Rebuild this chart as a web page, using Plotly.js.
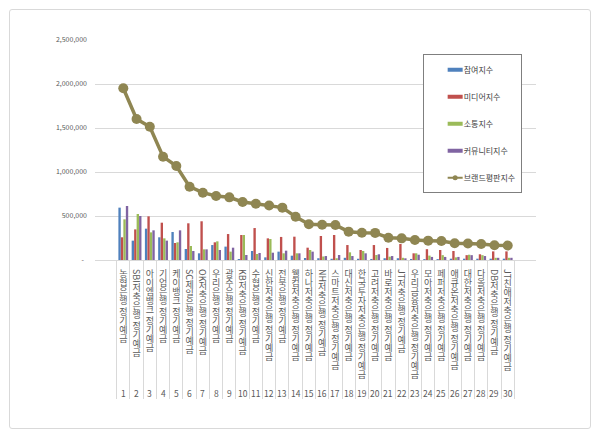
<!DOCTYPE html>
<html><head><meta charset="utf-8">
<script src="https://cdn.plot.ly/plotly-3.0.1.min.js"></script>
<style>
html,body{margin:0;padding:0;background:#fff;}
#wrap{position:relative;width:600px;height:437px;}
#frame{position:absolute;left:9px;top:9px;width:582px;height:420px;border:1px solid #d9d9d9;border-radius:3px;box-sizing:border-box;pointer-events:none;}
#chart{position:absolute;left:0;top:0;width:600px;height:437px;}
</style></head><body>
<div id="wrap"><div id="frame"></div><div id="chart"></div></div>
<script>
const categories = [
  "농협은행 정기예금","SBI저축은행 정기예금","아이엠뱅크 정기예금","기업은행 정기예금","케이뱅크 정기예금",
  "SC제일은행 정기예금","OK저축은행 정기예금","우리은행 정기예금","광주은행 정기예금","KB저축은행 정기예금",
  "수협은행 정기예금","신한저축은행 정기예금","전북은행 정기예금","웰컴저축은행 정기예금","하나저축은행 정기예금",
  "NH저축은행 정기예금","스마트저축은행 정기예금","대신저축은행 정기예금","한국투자저축은행 정기예금","고려저축은행 정기예금",
  "바로저축은행 정기예금","JT저축은행 정기예금","우리금융저축은행 정기예금","모아저축은행 정기예금","페퍼저축은행 정기예금",
  "애큐온저축은행 정기예금","대한저축은행 정기예금","다올저축은행 정기예금","DB저축은행 정기예금","JT친애저축은행 정기예금"
];
const ranks = ["1","2","3","4","5","6","7","8","9","10","11","12","13","14","15","16","17","18","19","20","21","22","23","24","25","26","27","28","29","30"];
const seriesNames = ["참여지수","미디어지수","소통지수","커뮤니티지수","브랜드평판지수"];
const participation = [595000,220000,356000,258000,318000,125000,76000,170000,152000,11000,102000,30000,95000,49000,23000,20000,14000,25000,14000,12000,20000,20000,12000,10000,10000,15000,15000,15000,15000,15000];
const media = [258000,348000,496000,424000,193000,417000,440000,201000,295000,284000,363000,246000,262000,265000,140000,273000,284000,170000,114000,170000,137000,182000,76000,123000,114000,102000,55000,65000,98000,98000];
const communication = [462000,523000,314000,246000,201000,159000,121000,212000,95000,284000,68000,239000,76000,76000,114000,40000,20000,87000,102000,57000,38000,25000,76000,50000,55000,30000,60000,55000,25000,25000];
const community = [614000,500000,337000,220000,337000,102000,121000,114000,140000,57000,80000,83000,106000,76000,95000,45000,57000,45000,76000,65000,45000,19000,60000,35000,35000,35000,55000,45000,25000,25000];
const brand = [1951000,1602000,1515000,1174000,1068000,833000,765000,727000,712000,660000,640000,620000,595000,492000,407000,401000,398000,322000,310000,308000,253000,246000,227000,220000,216000,190000,188000,182000,167000,165000];
const yTickVals = [0,500000,1000000,1500000,2000000,2500000];
const yTickText = ["-\u00a0\u00a0","500,000","1,000,000","1,500,000","2,000,000","2,500,000"];

const colors = ["#4F81BD","#C0504D","#9BBB59","#8064A2","#8F8652"];
const font = "'Noto Sans CJK KR','Noto Sans',sans-serif";
const barSeries = [participation, media, communication, community];

const data = barSeries.map((vals, i) => ({
  type: "bar", x: categories, y: vals, name: seriesNames[i],
  marker: {color: colors[i]}, legendgroup: "g" + i
}));
data.push({
  type: "scatter", mode: "lines+markers", x: categories, y: brand, name: seriesNames[4],
  line: {color: colors[4], width: 3.5}, marker: {color: colors[4], size: 10},
  legendgroup: "g4"
});

const annotations = ranks.map((r, i) => ({
  x: categories[i], xref: "x", y: -0.605, yref: "paper", text: r, showarrow: false,
  font: {family: font, size: 8.5, color: "#595959"}, yanchor: "middle"
}));

const layout = {
  width: 600, height: 437,
  margin: {l: 95, r: 64, t: 40, b: 177},
  paper_bgcolor: "rgba(0,0,0,0)", plot_bgcolor: "rgba(0,0,0,0)",
  barmode: "group", bargap: 0.25, bargroupgap: 0.05,
  font: {family: font, color: "#595959"},
  showlegend: true,
  legend: {x: 0.743, y: 0.935, xanchor: "left", yanchor: "top",
    bgcolor: "#ffffff", bordercolor: "#7f7f7f", borderwidth: 1,
    font: {family: font, size: 8, color: "#404040"}, tracegroupgap: 8, traceorder: "grouped"},
  xaxis: {type: "category", tickmode: "linear", dtick: 1, tickson: "boundaries",
    ticks: "outside", ticklen: 138, tickcolor: "#d9d9d9", tickwidth: 1,
    showline: true, linecolor: "#d9d9d9", showgrid: false, tickangle: 0, automargin: false,
    tickfont: {family: font, size: 9, color: "#595959"}, fixedrange: true},
  yaxis: {range: [0, 2500000], tickmode: "array", tickvals: yTickVals, ticktext: yTickText,
    showgrid: true, gridcolor: "#d9d9d9", gridwidth: 1, zeroline: false, showline: false,
    ticks: "", ticklabelstandoff: 7, automargin: false,
    tickfont: {family: font, size: 7, color: "#595959"}, fixedrange: true},
  annotations: annotations
};

Plotly.newPlot("chart", data, layout, {displayModeBar: false, staticPlot: true}).then(gd => {
  const fl = gd._fullLayout;
  const xa = fl.xaxis, ya = fl.yaxis;
  const yTop = ya._offset + ya._length + 9;
  gd.querySelectorAll(".xtick text").forEach(t => {
    const idx = categories.indexOf(t.textContent);
    if (idx < 0) return;
    const X = xa._offset + xa.l2p(idx);
    t.setAttribute("x", 0);
    t.setAttribute("y", 0);
    t.setAttribute("transform", "translate(" + X + "," + yTop + ")");
    t.setAttribute("text-anchor", "start");
    t.style.writingMode = "vertical-rl";
    t.style.textOrientation = "mixed";
  });
  gd.querySelectorAll(".legend .traces").forEach((g, i) => {
    if (i < 4) {
      g.querySelectorAll(".legendpoints path").forEach(p => p.setAttribute("d", "M19,2H4V-2H19Z"));
    } else {
      g.querySelectorAll(".legendlines path").forEach(p => { p.setAttribute("d", "M24,0h15"); p.style.strokeWidth = "2px"; });
      g.querySelectorAll(".legendpoints path").forEach(p => {
        p.setAttribute("transform", "translate(31.5,0)");
        p.setAttribute("d", "M2.5,0A2.5,2.5 0 1,1 0,-2.5A2.5,2.5 0 0,1 2.5,0Z");
      });
    }
  });
});
</script>
</body></html>
